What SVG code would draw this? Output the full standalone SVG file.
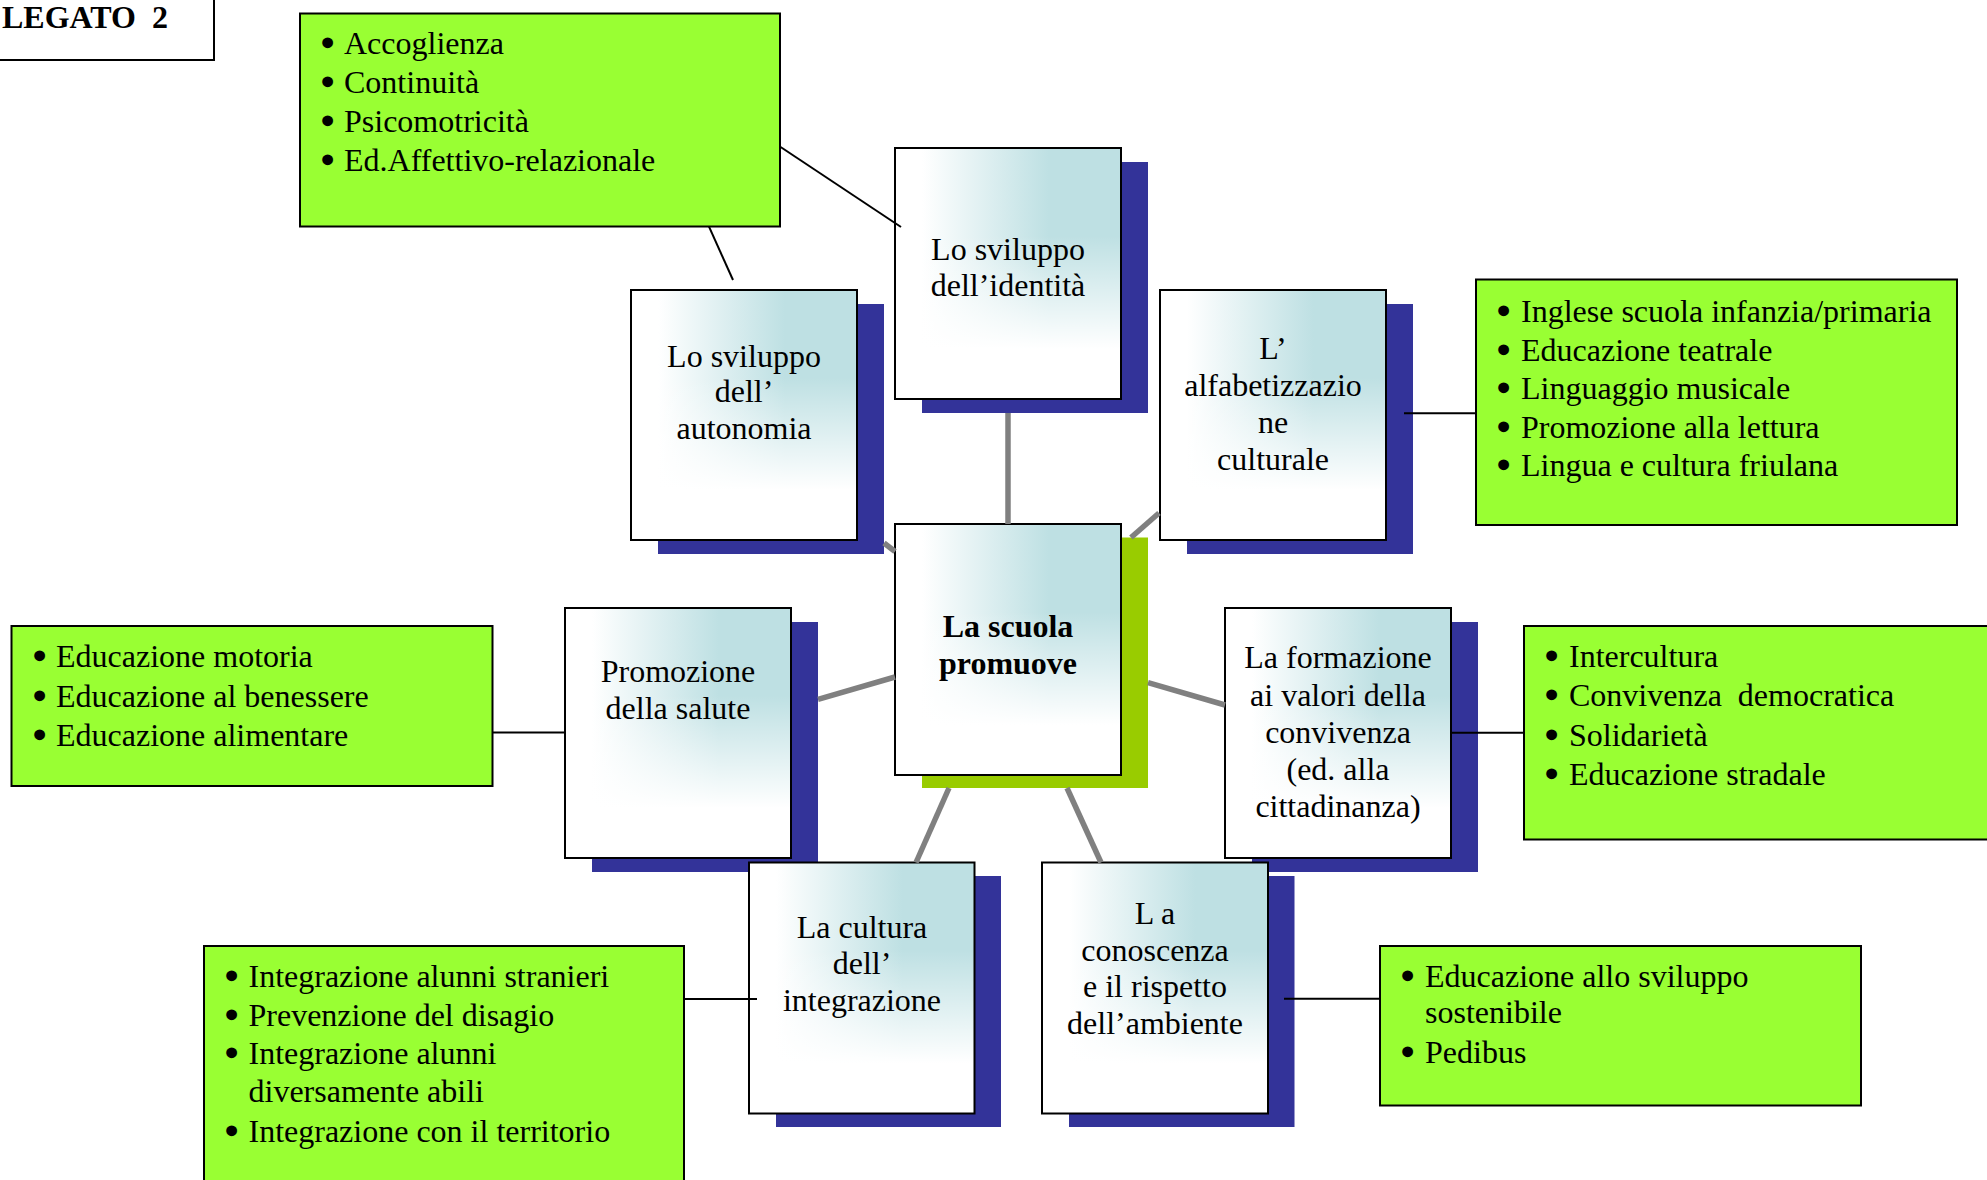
<svg xmlns="http://www.w3.org/2000/svg" width="1987" height="1180" viewBox="0 0 1987 1180">
<defs>
<linearGradient id="gH" x1="0" y1="0" x2="1" y2="0">
<stop offset="0.12" stop-color="#FFFFFF"/>
<stop offset="0.68" stop-color="#BEE0E3"/>
</linearGradient>
<linearGradient id="gV" x1="0" y1="0" x2="0" y2="1">
<stop offset="0.35" stop-color="#FFFFFF" stop-opacity="0"/>
<stop offset="0.8" stop-color="#FFFFFF" stop-opacity="1"/>
</linearGradient>
<style>
.shadow{fill:#333399}
.shadowc{fill:#99CC00}
.card{fill:url(#gH)}
.fade{fill:url(#gV);stroke:#000;stroke-width:2}
.green{fill:#99FF33;stroke:#000;stroke-width:2}
.plain{fill:#FFFFFF;stroke:#000;stroke-width:2}
.t{font-family:"Liberation Serif","Times New Roman",serif;font-size:32px;fill:#000}
.bu{stroke:#000;stroke-width:3.2;stroke-linejoin:round}
.c{text-anchor:middle}
.b{font-weight:bold}
.gl{stroke:#808080;stroke-width:5.5;fill:none}
.bl{stroke:#000;stroke-width:2;fill:none}
</style>
</defs>
<rect width="1987" height="1180" fill="#FFFFFF"/>

<g id="legato">
<rect class="plain" x="-3" y="-3" width="217" height="63"/>
<text class="t b" x="2" y="28" xml:space="preserve">LEGATO  2</text>
</g>

<g id="list-identita">
<rect class="green" x="300" y="13.5" width="480" height="213"/>
<text class="t"><tspan class="bu" x="322" y="54">•</tspan><tspan x="344" y="54">Accoglienza</tspan></text>
<text class="t"><tspan class="bu" x="322" y="93">•</tspan><tspan x="344" y="93">Continuità</tspan></text>
<text class="t"><tspan class="bu" x="322" y="132">•</tspan><tspan x="344" y="132">Psicomotricità</tspan></text>
<text class="t"><tspan class="bu" x="322" y="171">•</tspan><tspan x="344" y="171">Ed.Affettivo-relazionale</tspan></text>
</g>

<g id="list-alfabetizzazione">
<rect class="green" x="1476" y="279.5" width="481" height="245.5"/>
<text class="t"><tspan class="bu" x="1498" y="322">•</tspan><tspan x="1521" y="322">Inglese scuola infanzia/primaria</tspan></text>
<text class="t"><tspan class="bu" x="1498" y="360.5">•</tspan><tspan x="1521" y="360.5">Educazione teatrale</tspan></text>
<text class="t"><tspan class="bu" x="1498" y="399">•</tspan><tspan x="1521" y="399">Linguaggio musicale</tspan></text>
<text class="t"><tspan class="bu" x="1498" y="437.5">•</tspan><tspan x="1521" y="437.5">Promozione alla lettura</tspan></text>
<text class="t"><tspan class="bu" x="1498" y="476">•</tspan><tspan x="1521" y="476">Lingua e cultura friulana</tspan></text>
</g>

<g id="list-salute">
<rect class="green" x="11.5" y="626" width="481" height="160"/>
<text class="t"><tspan class="bu" x="34" y="667">•</tspan><tspan x="56" y="667">Educazione motoria</tspan></text>
<text class="t"><tspan class="bu" x="34" y="706.5">•</tspan><tspan x="56" y="706.5">Educazione al benessere</tspan></text>
<text class="t"><tspan class="bu" x="34" y="746">•</tspan><tspan x="56" y="746">Educazione alimentare</tspan></text>
</g>

<g id="list-convivenza">
<rect class="green" x="1524" y="626" width="480" height="213.5"/>
<text class="t"><tspan class="bu" x="1546" y="667">•</tspan><tspan x="1569" y="667">Intercultura</tspan></text>
<text class="t" xml:space="preserve"><tspan class="bu" x="1546" y="706">•</tspan><tspan x="1569" y="706">Convivenza  democratica</tspan></text>
<text class="t"><tspan class="bu" x="1546" y="745.5">•</tspan><tspan x="1569" y="745.5">Solidarietà</tspan></text>
<text class="t"><tspan class="bu" x="1546" y="785">•</tspan><tspan x="1569" y="785">Educazione stradale</tspan></text>
</g>

<g id="list-integrazione">
<rect class="green" x="204" y="946" width="480" height="260"/>
<text class="t"><tspan class="bu" x="226" y="987">•</tspan><tspan x="248.5" y="987">Integrazione alunni stranieri</tspan></text>
<text class="t"><tspan class="bu" x="226" y="1025.5">•</tspan><tspan x="248.5" y="1025.5">Prevenzione del disagio</tspan></text>
<text class="t"><tspan class="bu" x="226" y="1064">•</tspan><tspan x="248.5" y="1064">Integrazione alunni</tspan></text>
<text class="t" x="248.5" y="1102">diversamente abili</text>
<text class="t"><tspan class="bu" x="226" y="1141.5">•</tspan><tspan x="248.5" y="1141.5">Integrazione con il territorio</tspan></text>
</g>

<g id="list-ambiente">
<rect class="green" x="1380" y="946" width="481" height="159.5"/>
<text class="t"><tspan class="bu" x="1402" y="987">•</tspan><tspan x="1425" y="987">Educazione allo sviluppo</tspan></text>
<text class="t" x="1425" y="1023">sostenibile</text>
<text class="t"><tspan class="bu" x="1402" y="1062.5">•</tspan><tspan x="1425" y="1062.5">Pedibus</tspan></text>
</g>

<g id="node-identita">
<rect class="shadow" x="922" y="162" width="226" height="251"/>
<rect class="card" x="895" y="148" width="226" height="251"/>
<rect class="fade" x="895" y="148" width="226" height="251"/>
<text class="t c" x="1008" y="260">Lo sviluppo</text>
<text class="t c" x="1008" y="296">dell’identità</text>
</g>

<g id="node-autonomia">
<rect class="shadow" x="658" y="304" width="226" height="250"/>
<rect class="card" x="631" y="290" width="226" height="250"/>
<rect class="fade" x="631" y="290" width="226" height="250"/>
<text class="t c" x="744" y="367">Lo sviluppo</text>
<text class="t c" x="744" y="402">dell’</text>
<text class="t c" x="744" y="438.5">autonomia</text>
</g>

<g id="node-alfabetizzazione">
<rect class="shadow" x="1187" y="304" width="226" height="250"/>
<rect class="card" x="1160" y="290" width="226" height="250"/>
<rect class="fade" x="1160" y="290" width="226" height="250"/>
<text class="t c" x="1273" y="359">L’</text>
<text class="t c" x="1273" y="396">alfabetizzazio</text>
<text class="t c" x="1273" y="432.5">ne</text>
<text class="t c" x="1273" y="470">culturale</text>
</g>

<g id="node-centro">
<rect class="shadowc" x="922" y="537.5" width="226" height="250.5"/>
<rect class="card" x="895" y="524" width="226" height="251"/>
<rect class="fade" x="895" y="524" width="226" height="251"/>
<text class="t c b" x="1008" y="637">La scuola</text>
<text class="t c b" x="1008" y="674">promuove</text>
</g>

<g id="node-salute">
<rect class="shadow" x="592" y="622" width="226" height="250"/>
<rect class="card" x="565" y="608" width="226" height="250"/>
<rect class="fade" x="565" y="608" width="226" height="250"/>
<text class="t c" x="678" y="682">Promozione</text>
<text class="t c" x="678" y="718.5">della salute</text>
</g>

<g id="node-convivenza">
<rect class="shadow" x="1252" y="622" width="226" height="250"/>
<rect class="card" x="1225" y="608" width="226" height="250"/>
<rect class="fade" x="1225" y="608" width="226" height="250"/>
<text class="t c" x="1338" y="668">La formazione</text>
<text class="t c" x="1338" y="706">ai valori della</text>
<text class="t c" x="1338" y="742.5">convivenza</text>
<text class="t c" x="1338" y="779.5">(ed. alla</text>
<text class="t c" x="1338" y="816.5">cittadinanza)</text>
</g>

<g id="node-integrazione">
<rect class="shadow" x="776" y="876" width="225" height="251"/>
<rect class="card" x="749" y="862.5" width="225.5" height="251"/>
<rect class="fade" x="749" y="862.5" width="225.5" height="251"/>
<text class="t c" x="862" y="937.5">La cultura</text>
<text class="t c" x="862" y="974">dell’</text>
<text class="t c" x="862" y="1011">integrazione</text>
</g>

<g id="node-ambiente">
<rect class="shadow" x="1069" y="876" width="225.5" height="251"/>
<rect class="card" x="1042" y="862.5" width="226" height="251"/>
<rect class="fade" x="1042" y="862.5" width="226" height="251"/>
<text class="t c" x="1155" y="923.5">L a</text>
<text class="t c" x="1155" y="961">conoscenza</text>
<text class="t c" x="1155" y="997">e il rispetto</text>
<text class="t c" x="1155" y="1034">dell’ambiente</text>
</g>

<g id="connectors">
<line class="gl" x1="1008" y1="413" x2="1008" y2="524"/>
<line class="gl" x1="884" y1="543" x2="895" y2="551.5"/>
<line class="gl" x1="1159" y1="513" x2="1131" y2="537.5"/>
<line class="gl" x1="818" y1="699.3" x2="895" y2="677"/>
<line class="gl" x1="1148" y1="682.7" x2="1225" y2="705"/>
<line class="gl" x1="949" y1="788" x2="916" y2="862.5"/>
<line class="gl" x1="1067" y1="788" x2="1101" y2="862.5"/>
<line class="bl" x1="780.6" y1="147" x2="901" y2="227"/>
<line class="bl" x1="709" y1="226.7" x2="733" y2="280"/>
<line class="bl" x1="1404" y1="413.3" x2="1476" y2="413.3"/>
<line class="bl" x1="492.5" y1="732.5" x2="565" y2="732.5"/>
<line class="bl" x1="1451" y1="732.7" x2="1524" y2="732.7"/>
<line class="bl" x1="684" y1="999" x2="757" y2="999"/>
<line class="bl" x1="1284" y1="998.7" x2="1380" y2="998.7"/>
</g>
</svg>
